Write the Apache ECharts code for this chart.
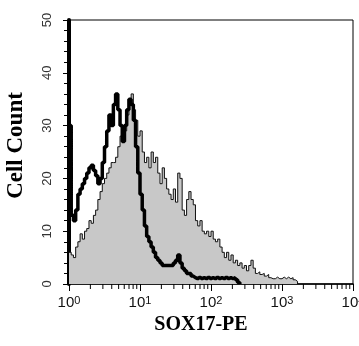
<!DOCTYPE html>
<html><head><meta charset="utf-8">
<script src="https://cdn.jsdelivr.net/npm/echarts@6/dist/echarts.min.js"></script>
<style>html,body{margin:0;padding:0;background:#fff}#c{width:359px;height:346px}</style>
</head><body><div id="c"></div>
<script>
const xTitle = 'SOX17-PE';
const yTitle = 'Cell Count';
const channelsPerDecade = 32;
const xTickExponents = [0, 1, 2, 3, 4];
const yTickValues = [0, 10, 20, 30, 40, 50];
const minorTickMultipliers = [2, 3, 4, 5, 6, 7, 8, 9];

// SOX17-PE stained sample (grey filled histogram), counts per channel
const stainedCounts = [
  6, 5.5, 5, 7, 8, 9.5, 8.5, 10, 10.5, 12,
  11.5, 13, 14, 16, 17.5, 19, 20, 21, 22, 23,
  23, 24, 26, 28, 27, 29, 32, 35, 36, 33,
  31, 28, 29, 25, 23, 24, 22, 25, 23, 24,
  21, 19, 22, 20, 18, 17, 16, 18, 15.5, 21,
  20, 14, 13, 16, 17.5, 16, 15, 12, 11, 12,
  10, 9.5, 10, 9, 10, 8.5, 8, 8.5, 7, 6,
  5, 6, 4.5, 5.5, 4, 4.5, 3.5, 4, 3, 3.5,
  2.5, 3.5, 4.5, 3, 2, 2.3, 1.8, 2, 1.5, 1.8,
  1.2, 1, 1, 1.3, 1, 1, 1.3, 1, 1.3, 1,
  1.2, 0.8, 0.5
];

// Control (thick black outline histogram), counts per channel
const controlCounts = [
  30, 13, 12, 14, 17, 18, 19, 20, 21, 22,
  22.5, 21.5, 20.5, 19, 20, 23, 26, 29, 32, 30,
  34, 36, 33, 30, 27, 30, 33, 35, 34, 31,
  26, 21, 17, 14, 11, 9, 8, 7, 6, 5,
  4.5, 4, 3.5, 3.5, 3.5, 3.5, 3.5, 4, 4.5, 5.5,
  4, 3, 2.5, 2, 2, 1.5, 1.2, 1, 1.3, 1,
  1.2, 1, 1.3, 1, 1.2, 1, 1.3, 1, 1.2, 1,
  1.3, 1, 1.2, 1, 1.2, 0.8, 0.3
];

function channelEdge(i) { return Math.pow(10, i / channelsPerDecade); }
function toSteps(counts) {
  const pts = counts.map((c, i) => [channelEdge(i), c]);
  pts.push([channelEdge(counts.length), 0]);
  return pts;
}
const minorTicks = [];
xTickExponents.slice(0, -1).forEach(e => minorTickMultipliers.forEach(m => minorTicks.push([m * Math.pow(10, e), 0])));

const chart = echarts.init(document.getElementById('c'), null, { renderer: 'canvas' });
chart.setOption({
  animation: false,
  backgroundColor: '#fff',
  grid: { left: 69, right: 6, top: 20, bottom: 62, show: true, borderColor: '#000', borderWidth: 1, backgroundColor: 'transparent', containLabel: false, outerBoundsMode: 'none' },
  xAxis: {
    type: 'log', logBase: 10, min: Math.pow(10, xTickExponents[0]), max: Math.pow(10, xTickExponents[xTickExponents.length - 1]),
    name: xTitle, nameLocation: 'middle', nameGap: 31,
    nameTextStyle: { fontFamily: 'Liberation Serif', fontWeight: 'bold', fontSize: 20, color: '#000', padding: [0, 20, 0, 0] },
    axisLine: { lineStyle: { color: '#000', width: 1.5 } },
    axisTick: { length: 7, lineStyle: { color: '#000', width: 1 } },
    splitLine: { show: false },
    axisLabel: {
      margin: 11, showMaxLabel: true, hideOverlap: false,
      formatter: v => '{b|10}{s|' + Math.round(Math.log10(v)) + '}',
      rich: {
        b: { fontSize: 15, fontFamily: 'Liberation Sans', color: '#111' },
        s: { fontSize: 11, fontFamily: 'Liberation Sans', color: '#111', verticalAlign: 'top' }
      }
    }
  },
  yAxis: {
    type: 'value', min: yTickValues[0], max: yTickValues[yTickValues.length - 1], interval: yTickValues[1] - yTickValues[0],
    name: yTitle, nameLocation: 'middle', nameGap: 41, nameRotate: 90,
    nameTextStyle: { fontFamily: 'Liberation Serif', fontWeight: 'bold', fontSize: 23, color: '#000', padding: [0, 0, 0, 13] },
    axisLine: { show: true, lineStyle: { color: '#000', width: 4 } },
    axisTick: { show: true, length: 6, lineStyle: { color: '#000', width: 1 } },
    minorTick: { show: true, splitNumber: 5, length: 5, lineStyle: { color: '#000', width: 1 } },
    splitLine: { show: false },
    axisLabel: { rotate: 90, margin: 15, fontSize: 13, fontFamily: 'Liberation Sans', color: '#333' }
  },
  series: [
    {
      type: 'line', step: 'end', symbol: 'none', data: toSteps(stainedCounts), z: 2,
      lineStyle: { color: '#111', width: 1 },
      areaStyle: { color: '#c8c8c8', opacity: 1 }
    },
    {
      type: 'line', step: 'end', symbol: 'none', data: toSteps(controlCounts), z: 3,
      lineStyle: { color: '#000', width: 3.5 }
    },
    {
      type: 'custom', data: minorTicks, clip: false, silent: true, z: 4,
      renderItem: (params, api) => {
        const p = api.coord([api.value(0), 0]);
        return { type: 'line', shape: { x1: p[0], y1: p[1], x2: p[0], y2: p[1] + 5 }, style: { stroke: '#000', lineWidth: 1 } };
      }
    }
  ]
});
</script>
</body></html>
